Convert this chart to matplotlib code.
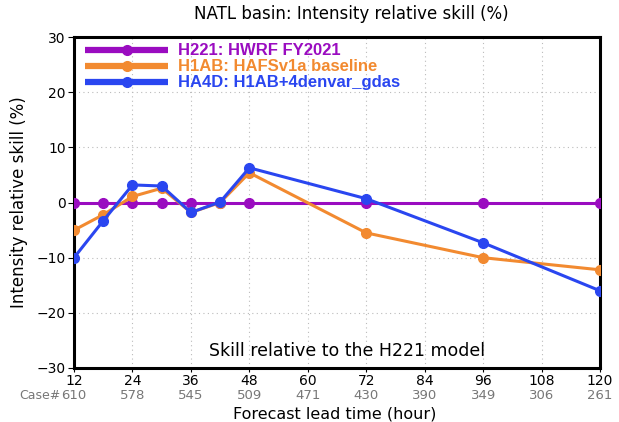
import matplotlib.pyplot as plt

plt.rcParams['font.family'] = ['DejaVu Sans']

# forecast lead times and skill values (%)
hours = [12, 18, 24, 30, 36, 42, 48, 72, 96, 120]
h221 = [0, 0, 0, 0, 0, 0, 0, 0, 0, 0]
h1ab = [-5.0, -2.2, 1.1, 2.6, -1.8, 0.0, 5.4, -5.5, -10.0, -12.2]
ha4d = [-10.0, -3.3, 3.2, 3.0, -1.8, 0.1, 6.3, 0.7, -7.3, -16.0]

xticks = [12, 24, 36, 48, 60, 72, 84, 96, 108, 120]
cases = ["610", "578", "545", "509", "471", "430", "390", "349", "306", "261"]

labels = ["H221: HWRF FY2021", "H1AB: HAFSv1a baseline", "HA4D: H1AB+4denvar_gdas"]
colors = ["#9a0cc0", "#f28a30", "#2a46f0"]

fig = plt.figure(figsize=(6.19, 4.22), dpi=100)
ax = fig.add_axes([0.1196, 0.128, 0.8498, 0.784])

for vals, c in zip([h221, h1ab, ha4d], colors):
    ax.plot(hours, vals, color=c, lw=2.2, marker='o', ms=7, zorder=3)

ax.set_xlim(12, 120)
ax.set_ylim(-30, 30)
ax.set_xticks(xticks)
ax.set_xticklabels([str(x) for x in xticks], fontsize=10)
ax.set_yticks([-30, -20, -10, 0, 10, 20, 30])
ax.set_yticklabels(["\u221230", "\u221220", "\u221210", "0", "10", "20", "30"], fontsize=10)
ax.tick_params(axis='x', length=3, direction='out', pad=1)
ax.tick_params(axis='y', length=4, direction='out', pad=2)
ax.grid(True, linestyle=(0, (1, 3)), color='#bbbbbb', lw=0.8)
for s in ax.spines.values():
    s.set_linewidth(2.2)

# case counts under tick labels
for x, n in zip(xticks, cases):
    ax.text(x, -33.9, n, ha='center', va='top', fontsize=9.5, color='#777777')
ax.text(9.2, -33.9, "Case#", ha='right', va='top', fontsize=9, color='#777777')

fig.text(0.54, 0.02, "Forecast lead time (hour)", ha='center', va='center', fontsize=11.5)
ax.set_ylabel("Intensity relative skill (%)", fontsize=12, labelpad=6)
fig.text(0.567, 0.967, "NATL basin: Intensity relative skill (%)", ha='center', va='center', fontsize=12)
ax.text(68, -27, "Skill relative to the H221 model", ha='center', va='center', fontsize=12.5)

# legend drawn by hand
for i, (lab, c) in enumerate(zip(labels, colors)):
    y = 27.6 - i * 2.9
    ax.plot([14.3, 31.3], [y, y], color=c, lw=4.5, solid_capstyle='butt', zorder=4)
    ax.plot([22.9], [y], color=c, marker='o', ms=7, zorder=4)
    ax.text(33.4, y, lab, color=c, fontsize=12, fontweight='bold', va='center', ha='left',
            family='Liberation Sans')

fig.savefig("out.png", dpi=100)
